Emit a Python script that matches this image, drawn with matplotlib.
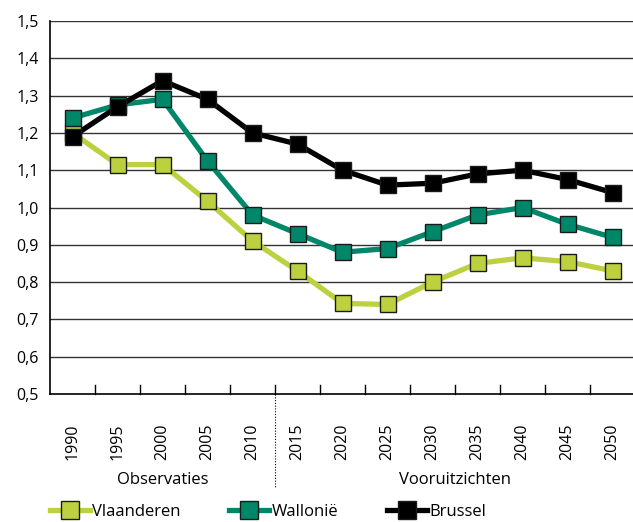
import matplotlib
matplotlib.use("Agg")
import matplotlib.pyplot as plt
from matplotlib.lines import Line2D

years = ["1990", "1995", "2000", "2005", "2010", "2015", "2020", "2025", "2030", "2035", "2040", "2045", "2050"]
vlaanderen = [1.20, 1.115, 1.115, 1.017, 0.91, 0.83, 0.743, 0.74, 0.80, 0.85, 0.865, 0.855, 0.83]
wallonie = [1.24, 1.275, 1.29, 1.125, 0.98, 0.93, 0.88, 0.89, 0.935, 0.98, 1.00, 0.955, 0.92]
brussel = [1.19, 1.27, 1.34, 1.29, 1.20, 1.17, 1.10, 1.06, 1.065, 1.09, 1.10, 1.075, 1.04]
series_names = ["Vlaanderen", "Wallonië", "Brussel"]
yticks = [0.5, 0.6, 0.7, 0.8, 0.9, 1.0, 1.1, 1.2, 1.3, 1.4, 1.5]

plt.rcParams['font.family'] = ['Open Sans', 'DejaVu Sans']

W, H = 633, 522
fig = plt.figure(figsize=(W / 100, H / 100), dpi=100)
ax = fig.add_axes([50 / W, 1 - 394 / H, 585 / W, (394 - 21) / H])

colors = ["#BDD140", "#00876A", "#000000"]
data = [vlaanderen, wallonie, brussel]
x = list(range(len(years)))
handles = []
for vals, c, name in zip(data, colors, series_names):
    ax.plot(x, vals, color=c, lw=3.8, zorder=3)
    ax.plot(x, vals, ls='none', marker='s', ms=11, mfc=c, mec='#1a1a1a', mew=1.0, zorder=4)
    handles.append(Line2D([0], [0], color=c, lw=3.8, marker='s', ms=13, mfc=c, mec='#1a1a1a', mew=1.0))

ax.set_xlim(-0.5, len(years) - 0.5)
ax.set_ylim(0.5, 1.5)
ax.set_yticks(yticks)
ax.set_yticklabels([f"{v:.1f}".replace(".", ",") for v in yticks], fontsize=11.5)
for v in yticks[1:]:
    ax.axhline(v, color='#333333', lw=1.0, zorder=1)

ax.set_xticks(x)
ax.set_xticklabels(years, rotation=90, fontsize=11.5)
ax.tick_params(axis='x', length=0, pad=21)
ax.tick_params(axis='y', length=0, pad=8)
for b in range(1, len(years)):
    ax.plot([b - 0.5, b - 0.5], [0.5, 0.5 + 0.025], color='black', lw=1, zorder=2, clip_on=False)

for s in ['top', 'right']:
    ax.spines[s].set_visible(False)
ax.spines['left'].set_color('black')
ax.spines['bottom'].set_color('black')
ax.spines['left'].set_linewidth(1.2)
ax.spines['bottom'].set_linewidth(1.2)

# dotted separator between observations and projections
fig.add_artist(Line2D([275 / W, 275 / W], [1 - 394 / H, 1 - 487 / H], color='black', lw=0.8, ls=(0, (1, 1.5))))

fig.text(163 / W, 1 - 480 / H, "Observaties", ha='center', va='center', fontsize=12)
fig.text(455 / W, 1 - 480 / H, "Vooruitzichten", ha='center', va='center', fontsize=12)

fig.legend(handles, series_names, loc='center left', bbox_to_anchor=(50 / W, 1 - 512 / H), ncol=3,
           frameon=False, fontsize=12, handlelength=2.4, handletextpad=0.15, columnspacing=2.9,
           borderaxespad=0, borderpad=0)

fig.savefig("out.png", dpi=100)
